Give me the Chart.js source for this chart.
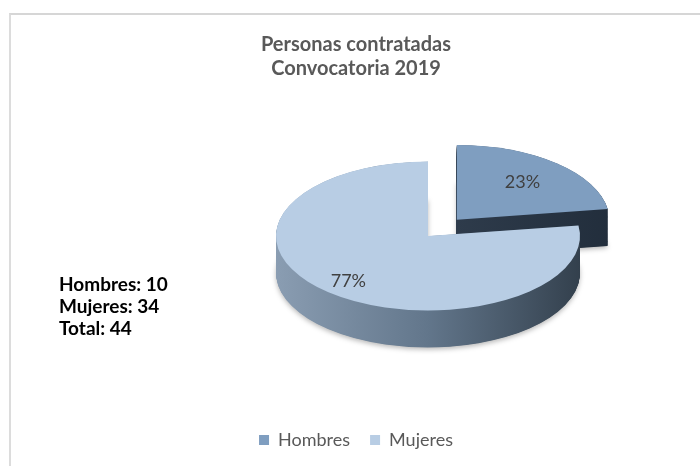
<!DOCTYPE html>
<html>
<head>
<meta charset="utf-8">
<script src="https://cdn.jsdelivr.net/npm/chart.js@4/dist/chart.umd.min.js"></script>
<style>
  html, body { margin: 0; padding: 0; background: #fff; }
  #wrap { position: relative; width: 700px; height: 466px; overflow: hidden; }
  #frame { position: absolute; left: 9px; top: 13px; width: 720px; height: 480px;
           border-left: 2px solid #dcdcdc; border-top: 2px solid #d6d6d6; }
  #chart { position: absolute; left: 0; top: 0; }
</style>
</head>
<body>
<div id="wrap">
  <div id="frame"></div>
  <canvas id="chart" width="700" height="466"></canvas>
</div>
<script>
const categories = ['Hombres', 'Mujeres'];
const contratados = [10, 34];
const titleLines = ['Personas contratadas', 'Convocatoria 2019'];

const total = contratados.reduce((a, b) => a + b, 0);
const percentLabels = contratados.map((v) => Math.round((v / total) * 100) + '%');
const noteLines = categories.map((c, i) => `${c}: ${contratados[i]}`).concat(`Total: ${total}`);

const FONT = 'Lato, "Open Sans", sans-serif';

// side panel on the left holding the totals, takes room from the chart area
const notePanel = {
  id: 'notePanel',
  start(chart, args, opts) {
    const box = {
      position: 'left',
      weight: 5,
      fullSize: false,
      options: {},
      isHorizontal: () => false,
      update(maxWidth, maxHeight) {
        this.width = opts.width;
        this.height = maxHeight;
      },
      draw() {
        const ctx = chart.ctx;
        ctx.save();
        ctx.font = opts.font;
        ctx.fillStyle = opts.color;
        ctx.textAlign = 'left';
        ctx.textBaseline = 'alphabetic';
        const y0 = this.top + this.height / 2 + opts.shiftY;
        opts.lines.forEach((t, i) => ctx.fillText(t, this.left + opts.indent, y0 + i * opts.lineHeight));
        ctx.restore();
      }
    };
    Chart.layouts.addBox(chart, box);
  }
};

// fake 3D: squash the disc, extrude the slices downward, then put the % labels on top
const pie3d = {
  id: 'pie3d',
  beforeDatasetsDraw(chart, args, opts) {
    const ctx = chart.ctx;
    const arcs = chart.getDatasetMeta(0).data;
    const cx = arcs[0].x, cy = arcs[0].y, r = arcs[0].outerRadius;
    ctx.save();
    ctx.translate(cx, cy - opts.depth / 2);
    ctx.scale(1, opts.tilt);
    ctx.translate(-cx, -cy);

    const depth = opts.depth / opts.tilt;
    arcs.forEach((arc, i) => {
      const g = ctx.createLinearGradient(cx - r, 0, cx + r, 0);
      const stops = opts.walls[i];
      stops.forEach((c, j) => g.addColorStop(j / (stops.length - 1), c));
      const saved = arc.options;
      arc.options = Object.assign({}, saved, { backgroundColor: g, borderWidth: 0 });
      for (let d = depth; d > 0; d -= 1) {
        ctx.save();
        if (d === depth) {
          ctx.shadowColor = 'rgba(0,0,0,0.28)';
          ctx.shadowBlur = 5;
          ctx.shadowOffsetY = 2;
        }
        ctx.translate(0, d);
        arc.draw(ctx);
        ctx.restore();
      }
      arc.options = saved;
    });
  },
  afterDatasetsDraw(chart, args, opts) {
    const ctx = chart.ctx;
    ctx.restore();

    const arcs = chart.getDatasetMeta(0).data;
    ctx.save();
    ctx.font = opts.labelFont;
    ctx.fillStyle = opts.labelColor;
    ctx.textAlign = 'center';
    ctx.textBaseline = 'middle';
    arcs.forEach((arc, i) => {
      const mid = (arc.startAngle + arc.endAngle) / 2;
      const rr = (arc.options.offset || 0) / 4 + arc.outerRadius * opts.labelAt[i];
      const x = arc.x + Math.cos(mid) * rr;
      const y = arc.y - opts.depth / 2 + Math.sin(mid) * rr * opts.tilt;
      ctx.fillText(percentLabels[i], x, y);
    });
    ctx.restore();
  }
};

new Chart(document.getElementById('chart'), {
  type: 'pie',
  data: {
    labels: categories,
    datasets: [{
      data: contratados,
      backgroundColor: ['#7f9ec0', '#b8cde4'],
      borderWidth: 0,
      offset: [176, 0],
      radius: 152,
      clip: false
    }]
  },
  options: {
    responsive: false,
    devicePixelRatio: 1,
    animation: false,
    events: [],
    layout: {
      padding: { left: 12, right: 0, top: 0, bottom: 7 }
    },
    plugins: {
      tooltip: { enabled: false },
      title: {
        display: true,
        text: titleLines,
        color: '#595959',
        font: { family: FONT, size: 20, weight: 'bold', lineHeight: 1.2 },
        padding: { top: 33, bottom: 17 }
      },
      legend: {
        position: 'bottom',
        labels: {
          boxWidth: 10,
          boxHeight: 10,
          padding: 20,
          color: '#595959',
          font: { family: FONT, size: 18 }
        }
      },
      notePanel: {
        width: 144,
        indent: 47,
        shiftY: 36,
        lineHeight: 22,
        font: 'bold 19px ' + FONT,
        color: '#000000',
        lines: noteLines
      },
      pie3d: {
        tilt: 0.49,
        depth: 37,
        walls: [
          ['#3d4b5c', '#2e3b4b', '#222e3c'],
          ['#8a9db2', '#62768b', '#33404d']
        ],
        labelAt: [0.66, 0.8],
        labelFont: '18px ' + FONT,
        labelColor: '#404040'
      }
    }
  },
  plugins: [notePanel, pie3d]
});
</script>
</body>
</html>
